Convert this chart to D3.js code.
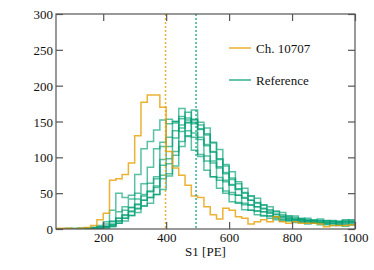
<!DOCTYPE html>
<html><head><meta charset="utf-8">
<script src="https://cdn.jsdelivr.net/npm/d3@7"></script>
<style>body{margin:0;background:#fff}svg{display:block}</style>
</head><body><svg id="c" width="374" height="270"></svg>
<script>
// bins: [40+20i, 60+20i], i = 0..47
const binStart = 40, binWidth = 20;
const chValues = [1,1,1,0,1,2,5,13,22,68,70,76,92,130,177,187,187,170,108,85,75,61,46,44,31,20,14,29,26,17,15,7,10,13,10,17,10,8,10,8,8,8,7,3,5,5,5,6];
const ref1 = [0,0,1,0,1,1,2,5,10,26,50,44,47,76,112,122,138,152,147,150,136,130,110,101,82,73,57,50,38,36,27,26,20,19,15,15,11,12,9,10,7,9,6,7,5,6,4,6];
const ref2 = [0,0,0,0,1,1,2,3,7,11,24,31,42,50,63,86,112,121,153,150,154,137,128,104,95,73,68,53,48,37,34,26,25,18,18,13,14,11,12,9,10,8,9,6,8,5,7,6];
const ref3 = [0,0,0,1,0,1,1,3,4,10,15,26,30,42,48,64,73,115,128,148,157,152,134,125,102,92,72,66,51,47,36,33,25,24,18,17,13,14,11,12,9,10,8,9,7,8,7,9];
const ref4 = [0,0,0,0,0,0,1,2,4,6,15,19,30,34,46,53,70,97,115,137,168,155,149,128,118,95,87,68,62,47,44,34,31,24,23,17,17,13,14,11,12,9,11,8,10,7,10,8];
const ref5 = [0,0,0,0,0,1,0,1,3,7,11,20,24,35,40,52,60,89,98,127,145,163,147,140,116,107,85,79,61,56,43,40,31,29,22,21,16,16,13,14,11,12,9,11,8,10,9,10];
const ref6 = [0,0,0,0,0,0,0,1,3,4,11,15,25,28,40,44,58,75,91,108,141,149,166,145,133,108,98,77,71,55,51,40,37,28,27,20,20,15,16,13,13,11,12,9,11,9,12,10];
const ref7 = [0,0,0,0,0,0,1,0,2,5,8,15,19,29,32,44,48,70,77,103,122,148,152,149,131,121,97,88,69,63,50,46,36,34,25,25,18,18,14,15,12,13,11,12,10,11,10,13];
const ref8 = [0,0,0,0,0,0,0,0,1,3,8,11,19,23,32,36,48,55,74,88,115,129,153,139,141,120,111,90,80,66,57,46,43,33,31,24,23,18,18,14,15,12,14,11,12,10,13,12];
const refSeries = [ref1, ref2, ref3, ref4, ref5, ref6, ref7, ref8];
const meanCh = 398, meanRef = 495;
const xDomain = [50, 1000], yDomain = [0, 300];
const xTicks = [200, 400, 600, 800, 1000];
const yTicks = [0, 50, 100, 150, 200, 250, 300];
const legendLabels = ["Ch. 10707", "Reference"];
const xTitle = "S1 [PE]";

const colCh = "#E69F00", colRef = "#009E73";
const L = 56, R = 355, T = 14, B = 229;
const svg = d3.select("#c");
const x = d3.scaleLinear().domain(xDomain).range([L, R]);
const y = d3.scaleLinear().domain(yDomain).range([B, T]);

svg.append("defs").append("clipPath").attr("id", "clip")
  .append("rect").attr("x", L).attr("y", T - 1).attr("width", R - L).attr("height", B - T + 1);

const font = "'Liberation Serif','Times New Roman',serif";

function stepPts(vals) {
  const pts = vals.map((v, i) => [binStart + i * binWidth, v]);
  pts.push([binStart + vals.length * binWidth, vals[vals.length - 1]]);
  return pts;
}
const line = d3.line().x(d => x(d[0])).y(d => y(d[1])).curve(d3.curveStepAfter);

const g = svg.append("g").attr("clip-path", "url(#clip)");
refSeries.forEach(s => {
  g.append("path").attr("d", line(stepPts(s))).attr("fill", "none")
    .attr("stroke", colRef).attr("stroke-width", 1.5).attr("stroke-opacity", 0.65);
});
g.append("path").attr("d", line(stepPts(chValues))).attr("fill", "none")
  .attr("stroke", colCh).attr("stroke-width", 1.5).attr("stroke-opacity", 0.8);

[[meanCh, colCh], [meanRef, colRef]].forEach(([m, c]) => {
  g.append("line").attr("x1", x(m)).attr("x2", x(m)).attr("y1", T).attr("y2", B)
    .attr("stroke", c).attr("stroke-width", 1.5).attr("stroke-dasharray", "2,2").attr("stroke-opacity", 0.8);
});

// frame
const axCol = "#555";
svg.append("rect").attr("x", L).attr("y", T).attr("width", R - L).attr("height", B - T)
  .attr("fill", "none").attr("stroke", axCol).attr("stroke-width", 1.2);

// axes with inward ticks
const tl = 7;
const fmt = d3.format("d");
const xb = svg.append("g").attr("transform", `translate(0,${B})`)
  .call(d3.axisBottom(x).tickValues(xTicks).tickSize(-tl).tickPadding(4).tickFormat(fmt));
const xt = svg.append("g").attr("transform", `translate(0,${T})`)
  .call(d3.axisTop(x).tickValues(xTicks).tickSize(-tl).tickFormat(""));
const yl = svg.append("g").attr("transform", `translate(${L},0)`)
  .call(d3.axisLeft(y).tickValues(yTicks).tickSize(-tl).tickFormat(fmt));
const yr = svg.append("g").attr("transform", `translate(${R},0)`)
  .call(d3.axisRight(y).tickValues(yTicks).tickSize(-tl).tickFormat(""));
[xb, xt, yl, yr].forEach(a => {
  a.attr("font-family", null).attr("font-size", null);
  a.select(".domain").remove();
  a.selectAll(".tick line").attr("stroke", axCol).attr("stroke-width", 1.2);
  a.selectAll("text").style("font-family", font).style("font-size", "13px").attr("fill", "#111");
});
yl.selectAll("text").attr("x", -3).attr("dy", "0.35em");

svg.append("text").attr("x", (L + R) / 2).attr("y", 256).attr("text-anchor", "middle")
  .style("font-family", font).style("font-size", "13px").attr("fill", "#111").text(xTitle);

// legend
const lg = svg.append("g");
[[legendLabels[0], colCh, 48], [legendLabels[1], colRef, 80]].forEach(([t, c, yy]) => {
  lg.append("line").attr("x1", 229).attr("x2", 251).attr("y1", yy).attr("y2", yy)
    .attr("stroke", c).attr("stroke-width", 1.5).attr("stroke-opacity", 0.8);
  lg.append("text").attr("x", 256).attr("y", yy).attr("dy", "0.35em")
    .style("font-family", font).style("font-size", "13px").attr("fill", "#111").text(t);
});
</script></body></html>
